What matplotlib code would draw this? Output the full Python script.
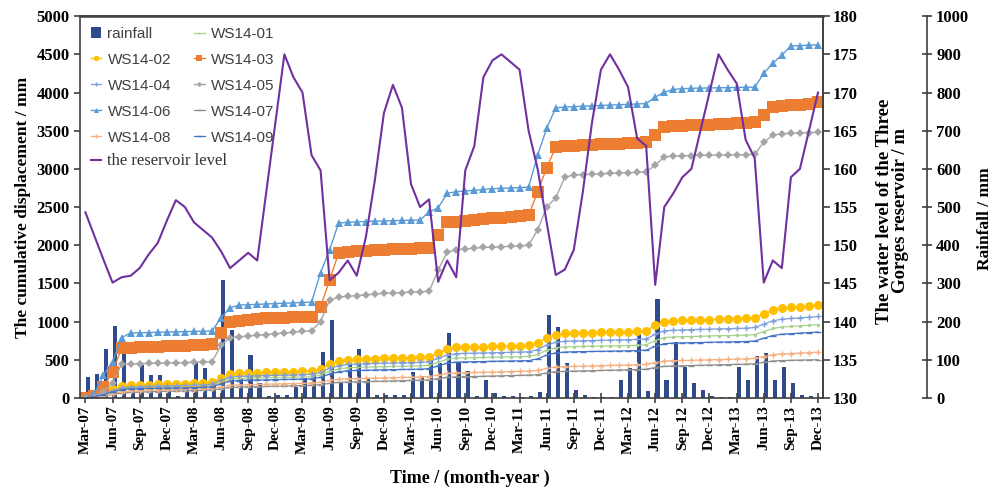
import numpy as np
import matplotlib
matplotlib.use("Agg")
import matplotlib.pyplot as plt

# months from Mar-07 to Dec-13 (82 monthly values, one list per year block)
tick_labels = [
    "Mar-07", "Jun-07", "Sep-07", "Dec-07",
    "Mar-08", "Jun-08", "Sep-08", "Dec-08",
    "Mar-09", "Jun-09", "Sep-09", "Dec-09",
    "Mar-10", "Jun-10", "Sep-10", "Dec-10",
    "Mar-11", "Jun-11", "Sep-11", "Dec-11",
    "Mar-12", "Jun-12", "Sep-12", "Dec-12",
    "Mar-13", "Jun-13", "Sep-13", "Dec-13",
]

rainfall = [
    54, 62, 128, 188, 115, 25, 85, 59, 59, 25,
    5, 30, 95, 78, 30, 309, 178, 53, 113, 38, 5, 8,
    8, 28, 51, 63, 119, 204, 38, 91, 127, 52, 8, 8,
    8, 8, 69, 58, 104, 92, 169, 95, 70, 5, 48, 12,
    5, 5, 2, 5, 16, 218, 187, 92, 20, 8, 3, 3,
    3, 48, 78, 168, 18, 258, 48, 147, 80, 38, 20, 5,
    3, 3, 80, 48, 110, 118, 48, 80, 38, 8, 5, 3,
]

reservoir_level = [
    154.3, 151.2, 148.1, 145.1, 145.8, 146.0, 147.0, 148.8, 150.3, 153.2,
    155.9, 155.0, 153.0, 152.0, 151.0, 149.2, 147.0, 148.0, 149.0, 148.0, 157.0, 166.0,
    175.0, 172.0, 170.0, 161.8, 159.8, 145.4, 146.4, 148.0, 146.0, 151.0, 158.5, 167.3,
    171.0, 168.0, 158.0, 155.0, 156.0, 145.2, 148.0, 145.8, 159.8, 163.0, 172.0, 174.2,
    175.0, 174.0, 173.0, 165.0, 160.0, 153.0, 146.1, 146.8, 149.4, 157.0, 166.0, 173.0,
    175.0, 173.0, 170.7, 164.0, 163.0, 144.8, 155.0, 156.8, 158.9, 160.0, 165.0, 170.0,
    175.0, 173.0, 171.2, 163.8, 161.4, 145.1, 148.0, 147.0, 158.9, 160.0, 165.0, 170.0,
]

ws14_01 = [
    0, 16, 47, 86, 118, 130, 134, 138, 140, 142,
    145, 147, 150, 154, 162, 205, 245, 253, 257, 261, 263, 266,
    268, 270, 273, 278, 300, 348, 379, 395, 399, 403, 406, 409,
    412, 414, 416, 419, 427, 466, 506, 521, 525, 528, 530, 532,
    535, 537, 540, 543, 569, 624, 656, 668, 672, 674, 676, 679,
    681, 683, 686, 689, 695, 751, 790, 798, 801, 804, 807, 811,
    814, 816, 819, 822, 830, 869, 909, 928, 936, 944, 952, 960,
]

ws14_02 = [
    0, 20, 60, 110, 150, 165, 170, 175, 178, 180,
    183, 186, 190, 195, 205, 260, 310, 320, 325, 330, 333, 336,
    339, 342, 346, 352, 380, 440, 480, 500, 505, 510, 514, 518,
    521, 524, 527, 530, 540, 590, 640, 660, 665, 668, 671, 674,
    677, 680, 683, 687, 720, 790, 830, 845, 850, 853, 856, 859,
    862, 865, 868, 872, 880, 950, 1000, 1010, 1014, 1018, 1022, 1026,
    1030, 1033, 1037, 1040, 1050, 1100, 1150, 1175, 1185, 1195, 1205, 1215,
]

ws14_03 = [
    0, 30, 145, 340, 650, 655, 660, 665, 670, 675,
    680, 685, 690, 695, 700, 850, 1000, 1010, 1020, 1030, 1040, 1045,
    1050, 1055, 1060, 1065, 1190, 1545, 1900, 1910, 1920, 1930, 1935, 1940,
    1945, 1950, 1955, 1960, 1965, 2130, 2300, 2310, 2320, 2330, 2340, 2350,
    2360, 2370, 2380, 2390, 2700, 3010, 3290, 3300, 3305, 3310, 3315, 3320,
    3325, 3330, 3340, 3345, 3350, 3440, 3550, 3560, 3565, 3570, 3575, 3580,
    3585, 3590, 3595, 3600, 3610, 3700, 3810, 3820, 3830, 3840, 3850, 3870,
]

ws14_04 = [
    0, 18, 52, 95, 130, 143, 148, 152, 155, 157,
    160, 163, 166, 170, 180, 228, 272, 281, 285, 289, 292, 295,
    298, 300, 304, 309, 333, 386, 421, 438, 443, 447, 451, 454,
    457, 460, 462, 465, 474, 518, 561, 579, 583, 586, 589, 591,
    594, 597, 600, 603, 632, 693, 728, 741, 746, 748, 751, 754,
    757, 759, 762, 765, 772, 834, 878, 886, 890, 893, 897, 900,
    904, 906, 910, 913, 922, 965, 1010, 1031, 1040, 1048, 1057, 1066,
]

ws14_05 = [
    0, 20, 80, 200, 440, 445, 448, 451, 454, 457,
    460, 463, 466, 469, 472, 690, 790, 800, 810, 820, 830, 840,
    850, 860, 870, 880, 1000, 1280, 1320, 1330, 1340, 1350, 1360, 1370,
    1375, 1380, 1385, 1390, 1395, 1675, 1910, 1940, 1950, 1960, 1970, 1975,
    1980, 1985, 1990, 2000, 2200, 2500, 2620, 2890, 2920, 2925, 2930, 2935,
    2940, 2945, 2950, 2955, 2960, 3050, 3155, 3170, 3172, 3174, 3176, 3178,
    3180, 3182, 3184, 3186, 3190, 3350, 3440, 3460, 3465, 3470, 3475, 3480,
]

ws14_06 = [
    0, 60, 300, 470, 790, 850, 853, 856, 859, 862,
    865, 868, 871, 874, 877, 1050, 1180, 1215, 1220, 1225, 1230, 1235,
    1240, 1245, 1250, 1255, 1640, 1940, 2290, 2300, 2305, 2310, 2315, 2318,
    2321, 2324, 2327, 2330, 2435, 2490, 2680, 2700, 2710, 2720, 2730, 2740,
    2745, 2750, 2755, 2760, 3180, 3530, 3800, 3810, 3815, 3820, 3825, 3830,
    3835, 3840, 3845, 3850, 3855, 3940, 4005, 4040, 4050, 4055, 4058, 4060,
    4062, 4064, 4066, 4068, 4070, 4250, 4385, 4490, 4610, 4615, 4620, 4625,
]

ws14_07 = [
    0, 8, 25, 45, 65, 72, 76, 80, 83, 86,
    89, 92, 95, 98, 103, 120, 137, 141, 144, 147, 150, 153,
    156, 159, 162, 165, 173, 190, 203, 207, 210, 213, 216, 219,
    222, 225, 228, 231, 236, 252, 268, 274, 277, 280, 283, 286,
    289, 292, 295, 298, 305, 325, 342, 347, 350, 353, 356, 359,
    362, 365, 368, 371, 376, 397, 413, 418, 421, 424, 427, 430,
    433, 436, 439, 442, 447, 465, 483, 489, 492, 495, 497, 500,
]

ws14_08 = [
    0, 10, 30, 55, 80, 90, 95, 100, 103, 106,
    110, 113, 116, 120, 125, 145, 165, 170, 173, 176, 179, 182,
    185, 188, 191, 195, 205, 228, 245, 250, 253, 256, 259, 262,
    265, 268, 271, 274, 280, 300, 320, 327, 330, 333, 336, 339,
    342, 345, 348, 351, 360, 385, 405, 410, 413, 416, 419, 422,
    425, 428, 431, 434, 440, 462, 482, 487, 490, 493, 496, 499,
    502, 505, 508, 511, 517, 542, 566, 576, 581, 586, 593, 600,
]

ws14_09 = [
    0, 14, 43, 78, 107, 117, 121, 124, 126, 128,
    130, 132, 135, 138, 146, 185, 220, 227, 231, 234, 236, 239,
    241, 243, 246, 250, 270, 312, 341, 355, 359, 362, 365, 368,
    370, 372, 374, 376, 383, 419, 454, 469, 472, 474, 476, 479,
    481, 483, 485, 488, 511, 561, 589, 600, 604, 606, 608, 610,
    612, 614, 616, 619, 625, 675, 710, 717, 720, 723, 725, 728,
    731, 733, 736, 738, 745, 781, 817, 834, 841, 848, 856, 863,
]

serif = "Liberation Serif"
sans = "Liberation Sans"

months = np.arange(len(rainfall))

fig = plt.figure(figsize=(9.96, 4.9), dpi=100)
ax = fig.add_subplot(111)
fig.subplots_adjust(left=0.0803, right=0.8263, top=0.967, bottom=0.188)

ax_rain = ax.twinx()
ax_level = ax.twinx()

# draw order: rainfall bars at the back, displacement, reservoir level on top
ax_rain.set_zorder(1)
ax.set_zorder(2)
ax_level.set_zorder(3)
ax.patch.set_visible(False)
ax_level.patch.set_visible(False)

bars = ax_rain.bar(months + 0.25, rainfall, width=0.45, color="#2F4B8C",
                   label="rainfall")

series = [
    ("WS14-01", ws14_01, "#A9D18E", "o", 2.5, 0.9),
    ("WS14-02", ws14_02, "#FFC000", "o", 6.5, 1.0),
    ("WS14-03", ws14_03, "#ED7D31", "s", 8, 1.0),
    ("WS14-04", ws14_04, "#7F9FDB", "+", 4, 0.9),
    ("WS14-05", ws14_05, "#A5A5A5", "D", 4.5, 1.0),
    ("WS14-06", ws14_06, "#5B9BD5", "^", 6, 1.0),
    ("WS14-07", ws14_07, "#8C8C8C", "_", 4, 0.9),
    ("WS14-08", ws14_08, "#F4B183", "+", 4, 0.9),
    ("WS14-09", ws14_09, "#4472C4", "_", 4, 0.9),
]

handles = {}
for name, vals, color, marker, ms, lw in series:
    line, = ax.plot(months, vals, color=color, marker=marker, markersize=ms,
                    linewidth=lw, markeredgewidth=1.0 if marker in "+_" else 0,
                    label=name)
    handles[name] = line

level_line, = ax_level.plot(months, reservoir_level, color="#7030A0",
                            linewidth=1.5, label="the reservoir level")

# axes ranges
ax.set_xlim(-0.6, 81.55)
ax.set_ylim(0, 5000)
ax.set_yticks(np.arange(0, 5001, 500))
ax_level.set_ylim(130, 180)
ax_level.set_yticks(np.arange(130, 181, 5))
ax_rain.set_ylim(0, 1000)
ax_rain.set_yticks(np.arange(0, 1001, 100))

ax.set_xticks(np.arange(0, len(months), 3))
ax.set_xticklabels(tick_labels, rotation=90)

# spines
for a in (ax, ax_rain, ax_level):
    for s in a.spines.values():
        s.set_color("#404040")
        s.set_linewidth(1.2)
ax.spines["top"].set_linewidth(1.8)
ax_rain.spines["right"].set_position(("axes", 1.14))
ax_rain.spines["left"].set_visible(False)
ax_rain.spines["top"].set_visible(False)
ax_rain.spines["bottom"].set_visible(False)
ax_level.spines["left"].set_visible(False)
ax_level.spines["bottom"].set_visible(False)

tick_font = dict(fontfamily=serif, fontweight="bold", fontsize=12)
ax.tick_params(axis="y", direction="out", length=4, width=1.2, color="#404040")
ax.tick_params(axis="x", direction="inout", length=7, width=1.2, color="#404040",
               pad=2)
ax_level.tick_params(axis="y", direction="out", length=5, width=1.2,
                     color="#404040", pad=2)
ax_rain.tick_params(axis="y", direction="inout", length=7, width=1.2,
                    color="#404040", pad=3)
for lab in ax.get_xticklabels():
    lab.set(fontfamily=serif, fontweight="bold", fontsize=11)
for lab in ax.get_yticklabels() + ax_level.get_yticklabels() + ax_rain.get_yticklabels():
    lab.set(**tick_font)

ax.set_ylabel("The cumulative displacement / mm", fontfamily=serif,
              fontweight="bold", fontsize=12.5, labelpad=4)
ax.set_xlabel("Time / (month-year )", fontfamily=serif, fontweight="bold",
              fontsize=13, labelpad=2)
ax.xaxis.set_label_coords(0.525, -0.187)
ax_level.set_ylabel("The water level of the Three\nGorges reservoir / m",
                    fontfamily=serif, fontweight="bold", fontsize=13.5,
                    linespacing=0.95)
ax_level.yaxis.set_label_coords(1.071, 0.49)
ax_rain.set_ylabel("Rainfall / mm", fontfamily=serif, fontweight="bold",
                   fontsize=12.5, labelpad=5)
ax_rain.yaxis.set_label_coords(1.207, 0.47)

# legend filled row by row like the original (two columns);
# the reservoir entry sits in its own row below, spanning both columns
order = [bars, handles["WS14-02"], handles["WS14-04"], handles["WS14-06"],
         handles["WS14-08"],
         handles["WS14-01"], handles["WS14-03"], handles["WS14-05"],
         handles["WS14-07"], handles["WS14-09"]]
leg_kw = dict(frameon=False, prop={"family": sans, "size": 11},
              handlelength=0.7, handletextpad=0.4, labelspacing=0.78,
              borderaxespad=0.3, markerscale=0.6)
leg = ax_level.legend(handles=order, labels=[h.get_label() for h in order],
                      loc="upper left", ncol=2, columnspacing=1.5, **leg_kw)
for t in leg.get_texts():
    t.set_color("#404040")
ax_level.add_artist(leg)
leg2 = ax_level.legend(handles=[level_line], labels=["the reservoir level"],
                       loc="center left", bbox_to_anchor=(0.0, 0.62), **leg_kw)
leg2.get_texts()[0].set_fontfamily(serif)
leg2.get_texts()[0].set_fontsize(12)
leg2.get_texts()[0].set_color("#333333")

fig.savefig("out.png", dpi=100)
